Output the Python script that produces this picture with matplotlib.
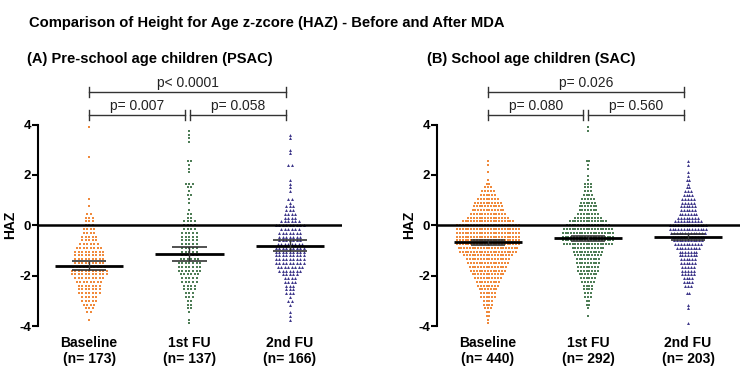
import numpy as np
import matplotlib
matplotlib.use('Agg')
import matplotlib.pyplot as plt

plt.rcParams['font.family'] = ['Liberation Sans', 'DejaVu Sans']
plt.rcParams['axes.unicode_minus'] = False

groups = ['Baseline', '1st FU', '2nd FU']
psac_n = [173, 137, 166]
sac_n = [440, 292, 203]

# dot plot rows: HAZ value of each row (step 0.15) and dots counted per row
haz_rows = np.round(np.arange(-3.9, 3.91, 0.15), 2)

psac_base = [0, 1, 0, 2, 3, 4, 5, 5, 7, 7,        # -3.90 .. -2.55
             7, 8, 9, 11, 11, 10, 9, 9, 9, 9,     # -2.40 .. -1.05
             8, 6, 5, 5, 4, 4, 3, 3, 3, 2,        # -0.90 .. 0.45
             0, 1, 0, 1, 0, 0, 0, 0, 0, 0,        # 0.60 .. 1.95
             0, 0, 0, 0, 1, 0, 0, 0, 0, 0,        # 2.10 .. 3.45
             0, 0, 1]                             # 3.60 .. 3.90
psac_fu1 = [1, 1, 0, 1, 2, 2, 2, 3, 3, 4,
            4, 5, 5, 6, 7, 7, 7, 6, 5, 5,
            5, 5, 5, 5, 5, 4, 4, 4, 2, 2,
            1, 0, 1, 1, 2, 1, 2, 3, 0, 0,
            1, 1, 1, 2, 0, 0, 0, 0, 1, 1,
            1, 1, 0]
psac_fu2 = [0, 1, 1, 1, 0, 1, 2, 1, 3, 3,
            3, 4, 4, 5, 7, 8, 9, 9, 9, 9,
            9, 8, 7, 7, 7, 6, 9, 6, 4, 4,
            3, 3, 1, 2, 0, 1, 1, 1, 1, 0,
            0, 0, 2, 0, 0, 1, 1, 0, 0, 1,
            1, 0, 0]
sac_base = [1, 1, 2, 2, 3, 4, 4, 6, 6, 7,
            8, 9, 10, 12, 13, 14, 15, 16, 18, 21,
            22, 23, 23, 23, 23, 23, 23, 19, 15, 13,
            12, 11, 10, 8, 6, 5, 3, 2, 1, 0,
            1, 0, 1, 1, 0, 0, 0, 0, 0, 0,
            0, 0, 0]
sac_fu1 = [0, 0, 1, 0, 1, 2, 2, 3, 3, 4,
           4, 5, 6, 7, 8, 8, 9, 9, 10, 11,
           12, 18, 19, 19, 19, 18, 16, 14, 10, 8,
           7, 7, 6, 5, 4, 3, 3, 3, 1, 1,
           0, 1, 1, 2, 0, 0, 0, 0, 0, 0,
           0, 1, 1]
sac_fu2 = [1, 0, 0, 0, 1, 1, 0, 0, 2, 0,
           3, 4, 4, 5, 5, 5, 6, 6, 7, 7,
           9, 10, 11, 12, 13, 14, 14, 10, 8, 7,
           6, 6, 5, 5, 4, 3, 2, 1, 2, 1,
           1, 0, 1, 1, 0, 0, 0, 0, 0, 0,
           0, 0, 0]

# mean and 95% CI
psac_mean = [-1.60, -1.14, -0.81]
psac_lo = [-1.79, -1.41, -1.03]
psac_hi = [-1.40, -0.87, -0.57]
sac_mean = [-0.68, -0.52, -0.46]
sac_lo = [-0.78, -0.62, -0.58]
sac_hi = [-0.58, -0.42, -0.35]

psac_p = ['p= 0.007', 'p= 0.058', 'p< 0.0001']
sac_p = ['p= 0.080', 'p= 0.560', 'p= 0.026']

colors = ['#F08A3C', '#4E7D56', '#3B3488']
markers = ['s', 's', '^']
msize = [3.0, 3.0, 4.5]


def bracket(ax, x0, x1, y, text):
    kw = dict(color='#333333', lw=1, clip_on=False)
    ax.plot([x0, x1], [y, y], **kw)
    ax.plot([x0, x0], [y - 0.2, y + 0.2], **kw)
    ax.plot([x1, x1], [y - 0.2, y + 0.2], **kw)
    ax.text((x0 + x1) / 2, y + 0.08, text, ha='center', va='bottom',
            fontsize=10, color='#222222')


def draw_panel(ax, counts_list, n, means, lo, hi, pvals, dx):
    for i, counts in enumerate(counts_list):
        xs, ys = [], []
        for v, c in zip(haz_rows, counts):
            for k in range(c):
                xs.append(i + (k - (c - 1) / 2) * dx)
                ys.append(v)
        ax.scatter(xs, ys, s=msize[i], marker=markers[i], color=colors[i],
                   linewidths=0, zorder=2)
        ax.hlines(means[i], i - 0.34, i + 0.34, color='black', lw=2, zorder=4)
        ax.hlines([lo[i], hi[i]], i - 0.17, i + 0.17, color='#333333', lw=1.2, zorder=4)
        ax.vlines(i, lo[i], hi[i], color='#333333', lw=1, zorder=4)
    ax.axhline(0, color='black', lw=1.8, zorder=3)
    ax.set_xlim(-0.51, 2.52)
    ax.set_ylim(-4, 4)
    ax.set_yticks([-4, -2, 0, 2, 4])
    ax.set_xticks([0, 1, 2])
    ax.set_xticklabels([f'{g}\n(n= {m})' for g, m in zip(groups, n)],
                       fontweight='bold', fontsize=10)
    ax.tick_params(axis='x', length=0, pad=7)
    for s in ['top', 'right', 'bottom']:
        ax.spines[s].set_visible(False)
    ax.spines['left'].set_linewidth(1.5)
    ax.tick_params(axis='y', width=1.5, length=4, labelsize=9.5, pad=1)
    for lab in ax.get_yticklabels():
        lab.set_fontweight('bold')
    ax.set_ylabel('HAZ', fontweight='bold', fontsize=10)
    ax.yaxis.set_label_coords(-0.07, 0.5)
    bracket(ax, 0, 0.955, 4.36, pvals[0])
    bracket(ax, 1.005, 1.96, 4.36, pvals[1])
    bracket(ax, 0, 1.96, 5.28, pvals[2])


fig = plt.figure(figsize=(7.49, 3.67), dpi=100)
ax1 = fig.add_axes([0.0507, 0.1117, 0.4059, 0.549])
ax2 = fig.add_axes([0.5834, 0.1117, 0.4046, 0.549])

draw_panel(ax1, [psac_base, psac_fu1, psac_fu2], psac_n, psac_mean, psac_lo, psac_hi, psac_p, 0.035)
draw_panel(ax2, [sac_base, sac_fu1, sac_fu2], sac_n, sac_mean, sac_lo, sac_hi, sac_p, 0.028)

fig.text(29 / 749, 1 - 23 / 367, 'Comparison of Height for Age z-zcore (HAZ) - Before and After MDA',
         fontsize=10.6, fontweight='bold', va='center')
fig.text(27 / 749, 1 - 59 / 367, '(A) Pre-school age children (PSAC)',
         fontsize=10.5, fontweight='bold', va='center')
fig.text(427 / 749, 1 - 59 / 367, '(B) School age children (SAC)',
         fontsize=10.5, fontweight='bold', va='center')

fig.savefig('out.png', dpi=100)
